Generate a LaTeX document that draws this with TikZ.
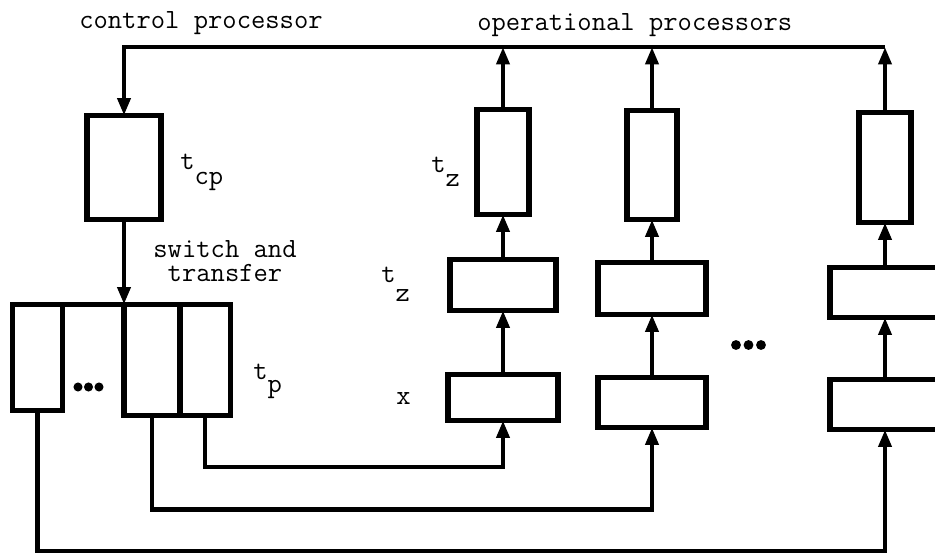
\documentclass[tikz,border=0pt]{standalone}
\usepackage{fontspec}
\usetikzlibrary{arrows.meta}
\newcommand{\tsb}[2]{t\raisebox{-#2}{#1}}
\begin{document}
\begin{tikzpicture}[x=0.75pt,y=-0.75pt,
  box/.style 2 args={draw, line width=4.3pt, inner sep=0pt, outer sep=0pt, minimum width=#1, minimum height=#2},
  conn/.style={line width=3.3pt},
  arr/.style={-{Triangle[length=13pt,width=9.5pt]}},
  lbl/.style={inner sep=0pt, font=\fontsize{20.85pt}{18pt}\selectfont\ttfamily\addfontfeatures{FakeBold=1.2}},
  dotmark/.style={fill=black}]
\useasboundingbox (0,0) rectangle (935,555);

% control processor
\node[box={55.5pt}{78pt}] (cp) at (124,167.5) {};
% register boxes
\node[box={37.5pt}{79.5pt}] (pA) at (37.5,357.5) {};
\node[box={42pt}{83.25pt}] (pB) at (152,360) {};
\node[box={37.9pt}{83.25pt}] (pC) at (205.25,360) {};
\draw[line width=4.3pt] (pA.north east) -- (pB.north west);

% operational processors
\node[box={39pt}{78.75pt}] (c1t) at (503,162) {};
\node[box={79.5pt}{38.25pt}] (c1m) at (503,285) {};
\node[box={82.5pt}{34.5pt}] (c1x) at (503,397.5) {};
\node[box={37.5pt}{81.75pt}] (c2t) at (652,165) {};
\node[box={81pt}{39pt}] (c2m) at (652,288.5) {};
\node[box={81pt}{37.5pt}] (c2x) at (652,402.5) {};
\node[box={39pt}{82.5pt}] (c3t) at (885,167.5) {};
\node[box={82.5pt}{37.5pt}] (c3m) at (885,292.5) {};
\node[box={82.5pt}{37.5pt}] (c3x) at (885,404.5) {};

% bus coordinates
\coordinate (busR) at (885,47);
\coordinate (r1) at (0,467);
\coordinate (r2) at (0,509.5);
\coordinate (r3) at (0,551);

% top bus
\draw[conn,arr] (c3t.north) -- (busR);
\draw[conn,arr] (c1t.north) -- (c1t.north |- busR);
\draw[conn,arr] (c2t.north) -- (c2t.north |- busR);
\draw[conn,arr] (busR) -- (cp.north |- busR) -- (cp.north);
\draw[conn,arr] (cp.south) -- (cp.south |- pB.north);

% column internal arrows
\draw[conn,arr] (c1x.north) -- (c1m.south);
\draw[conn,arr] (c1m.north) -- (c1t.south);
\draw[conn,arr] (c2x.north) -- (c2m.south);
\draw[conn,arr] (c2m.north) -- (c2t.south);
\draw[conn,arr] (c3x.north) -- (c3m.south);
\draw[conn,arr] (c3m.north) -- (c3t.south);

% distribution lines
\draw[conn,arr] (pC.south) |- (r1 -| c1x.south) -- (c1x.south);
\draw[conn,arr] (pB.south) |- (r2 -| c2x.south) -- (c2x.south);
\draw[conn,arr] (pA.south) |- (r3 -| c3x.south) -- (c3x.south);

% ellipsis dots
\fill[dotmark] (78,387) circle[radius=3.4pt] (88.5,387) circle[radius=3.4pt] (99,387) circle[radius=3.4pt];
\fill[dotmark] (736,345) circle[radius=3.7pt] (748.5,345) circle[radius=3.7pt] (761,345) circle[radius=3.7pt];

% labels
\node[lbl, anchor=base west] (lcp) at (79,29) {control processor};
\node[lbl, anchor=base west] (lop) at (477,31) {operational processors};
\node[lbl, anchor=base west] (ltcp) at (180,170) {\tsb{cp}{11.25pt}};
\node[lbl, anchor=base west] (ltz1) at (431,173) {\tsb{z}{10.5pt}};
\node[lbl, anchor=base west] (ltz2) at (381,283) {\tsb{z}{14.25pt}};
\node[lbl, anchor=base west] (ltp) at (253,380) {\tsb{p}{9.75pt}};
\node[lbl, anchor=base west] (lx) at (396,405) {x};
\node[lbl, anchor=base, align=center] (lsw) at (225,282) {switch and\\transfer};
\end{tikzpicture}
\end{document}
